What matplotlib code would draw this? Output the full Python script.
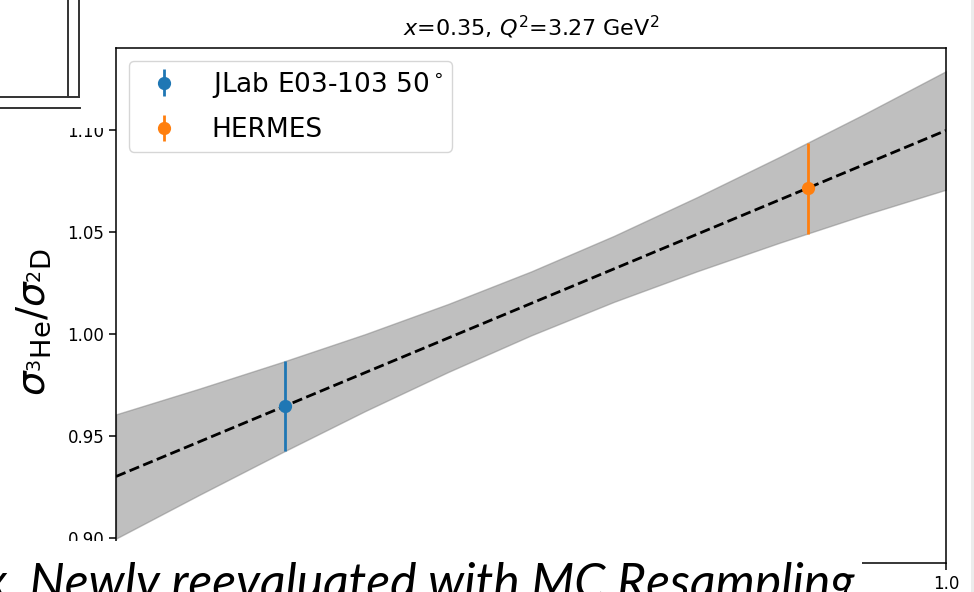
import matplotlib
matplotlib.use("Agg")
import matplotlib.pyplot as plt
from matplotlib.patches import Rectangle
from matplotlib.lines import Line2D

# ---- data ----
band_x = [0.0, 0.1, 0.2, 0.3, 0.4, 0.5, 0.6, 0.7, 0.8, 0.9, 1.0]
band_upper = [0.9605, 0.9731, 0.9862, 0.9999, 1.0147, 1.0307, 1.0482, 1.0672, 1.0871, 1.1077, 1.1291]
band_lower = [0.8995, 0.9209, 0.9418, 0.9621, 0.9813, 0.9993, 1.0158, 1.0308, 1.0449, 1.0583, 1.0709]
fit_x = [0.0, 1.0]
fit_y = [0.930, 1.100]

jlab_x = [0.2036]
jlab_y = [0.9646]
jlab_err = [0.0222]
hermes_x = [0.834]
hermes_y = [1.0715]
hermes_err = [0.0223]

yticks = [0.90, 0.95, 1.00, 1.05, 1.10]
xticks = [0.0, 0.2, 0.4, 0.6, 0.8, 1.0]
xticklabels = ["", "", "", "", "", "1.0"]  # others are hidden by the slide overlay

title = r"$x$=0.35, $Q^2$=3.27 GeV$^2$"
ylabel = r"$\sigma_{^3\mathrm{He}}/\sigma_{^2\mathrm{D}}$"
overlay_text = "x. Newly reevaluated with MC Resampling"

W, H = 974, 592
fig = plt.figure(figsize=(W / 100, H / 100), dpi=100)
fig.patch.set_facecolor("white")

ax = fig.add_axes([116 / W, (H - 563) / H, (946 - 116) / W, (563 - 48) / H])
ax.fill_between(band_x, band_lower, band_upper, color="gray", alpha=0.5, lw=1)
ax.plot(fit_x, fit_y, "k--", lw=2)
ax.errorbar(jlab_x, jlab_y, yerr=jlab_err, fmt="o", color="#1f77b4", ms=8.5, elinewidth=2,
            label=r"JLab E03-103 50$^\circ$")
ax.errorbar(hermes_x, hermes_y, yerr=hermes_err, fmt="o", color="#ff7f0e", ms=8.5, elinewidth=2,
            label="HERMES")

ax.set_xlim(0.0, 1.0)
ax.set_ylim(0.8875, 1.1405)
ax.set_yticks(yticks)
ax.set_yticklabels([f"{v:.2f}" for v in yticks])
ax.set_xticks(xticks)
ax.set_xticklabels(xticklabels)
ax.tick_params(labelsize=12, length=5, width=1.1)
for s in ax.spines.values():
    s.set_linewidth(1.1)
ax.set_title(title, fontsize=16, pad=9)
ax.set_ylabel(ylabel, fontsize=28)
ax.yaxis.set_label_coords(-0.0765, 0.468)
ax.legend(loc="upper left", fontsize=19, borderpad=0.33, labelspacing=0.65,
          borderaxespad=0.5)

# ---- overlays from the surrounding slide ----
def px_rect(x0, y0, x1, y1, **kw):
    fig.patches.append(Rectangle((x0 / W, 1 - y1 / H), (x1 - x0) / W, (y1 - y0) / H,
                                 transform=fig.transFigure, **kw))

px_rect(0, 0, 111, 128, facecolor="white", edgecolor="none", zorder=10)
px_rect(0, 541, 862, H + 5, facecolor="white", edgecolor="none", zorder=10)
px_rect(971, 0, W, H, facecolor="#ececec", edgecolor="none", zorder=10)

lc = "#333333"
for (xa, ya, xb, yb) in [(68, 0, 68, 97), (78.5, 0, 78.5, 97), (0, 97, 78.5, 97), (0, 108.5, 80, 108.5)]:
    fig.add_artist(Line2D([xa / W, xb / W], [1 - ya / H, 1 - yb / H], transform=fig.transFigure,
                          color=lc, lw=1.4, zorder=11))

x0 = -16
t = fig.text(x0 / W, 1 - 599 / H, overlay_text, fontsize=34, style="italic",
             family=["Lato", "DejaVu Sans"], ha="left", va="baseline", zorder=12)
fig.canvas.draw()
ext = t.get_window_extent()
target_w = 855 - x0
t.set_fontsize(34 * target_w / ext.width)

fig.savefig("out.png", dpi=100, facecolor="white")
